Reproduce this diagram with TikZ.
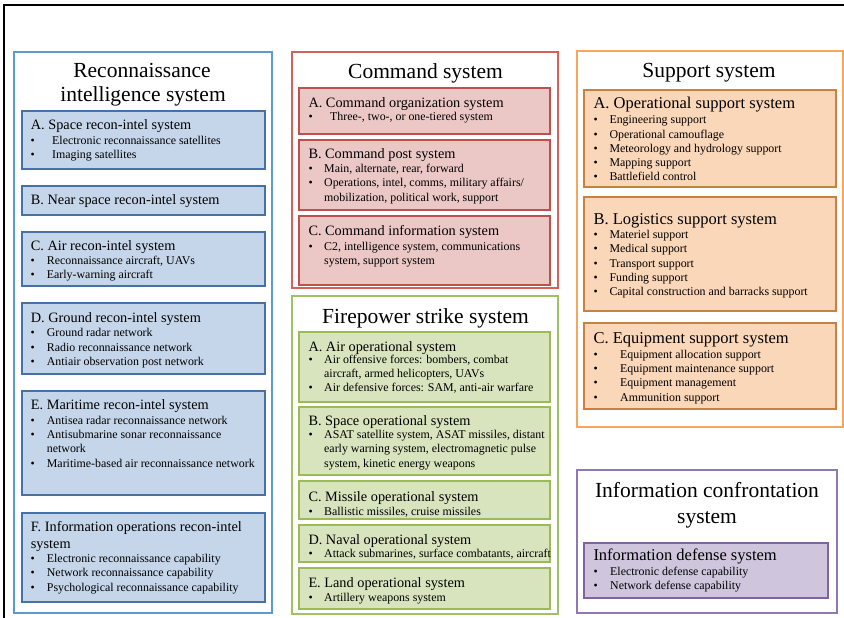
\documentclass[tikz,border=0pt]{standalone}
\usepackage{fontspec}
\setmainfont{Liberation Serif}
\definecolor{blueout}{HTML}{5B9BD5}
\definecolor{bluefill}{HTML}{C5D5EA}
\definecolor{bluedraw}{HTML}{4672A8}
\definecolor{redout}{HTML}{D6605B}
\definecolor{redfill}{HTML}{EBC7C6}
\definecolor{reddraw}{HTML}{C0504D}
\definecolor{greenout}{HTML}{A0C264}
\definecolor{greenfill}{HTML}{D7E4BD}
\definecolor{greendraw}{HTML}{9BBB59}
\definecolor{orangeout}{HTML}{F8A65C}
\definecolor{orangefill}{HTML}{FBD7B9}
\definecolor{orangedraw}{HTML}{C8813E}
\definecolor{purpleout}{HTML}{9079B0}
\definecolor{purplefill}{HTML}{CFC5DD}
\definecolor{purpledraw}{HTML}{8064A2}
\tikzset{
  boxbase/.style={rectangle, anchor=north west, inner sep=0pt, outer sep=0pt},
  outbox/.style={boxbase, draw=#1, line width=1.8pt, fill=white},
  inbox/.style 2 args={boxbase, draw=#1, fill=#2, line width=2pt},
  ttl/.style={anchor=base, inner sep=0pt, font=\fontsize{21.5}{24}\selectfont},
  hdsm/.style={anchor=base west, inner sep=0pt, font=\fontsize{14.3}{16}\selectfont},
  hdlg/.style={anchor=base west, inner sep=0pt, font=\fontsize{16.5}{18}\selectfont},
  txt/.style={anchor=base west, inner sep=0pt, font=\fontsize{11.9}{14}\selectfont},
}
% box: name, style, x1, y1, x2, y2
\newcommand\bx[6]{\node[#2, minimum width=#5pt-#3pt, minimum height=#6pt-#4pt] (#1) at (#3,#4) {};}
% bullet: name, dot x, text x, y, text
\newcommand\bu[5]{\node[txt] (#1d) at (#2,#4) {\textbullet}; \node[txt] (#1) at (#3,#4) {#5};}
\begin{document}
\begin{tikzpicture}[x=1pt,y=-1pt]
\useasboundingbox (0,0) rectangle (844,618);
\coordinate (fb) at (4,618);
\coordinate (ftl) at (4,5);
\coordinate (fr) at (844,5);
\draw[line width=1.6pt] (fb) -- (ftl) -- (fr);

% ---------- Reconnaissance intelligence system ----------
\bx{recon}{outbox=blueout}{14}{52}{272}{613}
\node[ttl] (reconT1) at (142,77.7) {Reconnaissance};
\node[ttl] (reconT2) at (143,101.7) {intelligence system};

\bx{rA}{inbox={bluedraw}{bluefill}}{22}{111}{265}{169}
\node[hdsm] (rAh) at (30.7,129.5) {A. Space recon-intel system};
\bu{rA1}{30.5}{52}{144}{Electronic reconnaissance satellites}
\bu{rA2}{30.5}{52}{158.3}{Imaging satellites}

\bx{rB}{inbox={bluedraw}{bluefill}}{22}{186}{265}{215}
\node[hdsm] (rBh) at (30.7,204.5) {B. Near space recon-intel system};

\bx{rC}{inbox={bluedraw}{bluefill}}{22}{232}{265}{286}
\node[hdsm] (rCh) at (30.7,250.5) {C. Air recon-intel system};
\bu{rC1}{30.5}{46.7}{264.7}{Reconnaissance aircraft, UAVs}
\bu{rC2}{30.5}{46.7}{278.7}{Early-warning aircraft}

\bx{rD}{inbox={bluedraw}{bluefill}}{22}{303}{265}{374}
\node[hdsm] (rDh) at (30.7,322.7) {D. Ground recon-intel system};
\bu{rD1}{30.5}{46.7}{336.7}{Ground radar network}
\bu{rD2}{30.5}{46.7}{351}{Radio reconnaissance network}
\bu{rD3}{30.5}{46.7}{365.5}{Antiair observation post network}

\bx{rE}{inbox={bluedraw}{bluefill}}{22}{391}{265}{495}
\node[hdsm] (rEh) at (30.7,409.3) {E. Maritime recon-intel system};
\bu{rE1}{30.5}{46.7}{424.3}{Antisea radar reconnaissance network}
\bu{rE2}{30.5}{46.7}{438.7}{Antisubmarine sonar reconnaissance}
\node[txt] (rE2b) at (46.7,452.7) {network};
\bu{rE3}{30.5}{46.7}{467}{Maritime-based air reconnaissance network}

\bx{rF}{inbox={bluedraw}{bluefill}}{22}{513}{265}{602}
\node[hdsm] (rFh) at (30.7,531.7) {F. Information operations recon-intel};
\node[hdsm] (rFh2) at (30.7,548) {system};
\bu{rF1}{30.5}{46.7}{562.3}{Electronic reconnaissance capability}
\bu{rF2}{30.5}{46.7}{576.7}{Network reconnaissance capability}
\bu{rF3}{30.5}{46.7}{591.3}{Psychological reconnaissance capability}

% ---------- Command system ----------
\bx{cmd}{outbox=redout}{292}{52}{558}{288}
\node[ttl] (cmdT) at (425.5,78.3) {Command system};

\bx{cA}{inbox={reddraw}{redfill}}{298.5}{88}{550}{134.3}
\node[hdsm] (cAh) at (308.3,107.3) {A. Command organization system};
\bu{cA1}{308.5}{330}{121}{Three-, two-, or one-tiered system}

\bx{cB}{inbox={reddraw}{redfill}}{298.5}{139.5}{550}{210}
\node[hdsm] (cBh) at (308.3,158.3) {B. Command post system};
\bu{cB1}{308.5}{324}{172.7}{Main, alternate, rear, forward}
\bu{cB2}{308.5}{324}{186.7}{Operations, intel, comms, military affairs/}
\node[txt] (cB2b) at (324,201) {mobilization, political work, support};

\bx{cC}{inbox={reddraw}{redfill}}{298.5}{216}{550}{285}
\node[hdsm] (cCh) at (308.3,235.7) {C. Command information system};
\bu{cC1}{308.5}{324}{250}{C2, intelligence system, communications}
\node[txt] (cC1b) at (324,264) {system, support system};

% ---------- Firepower strike system ----------
\bx{fire}{outbox=greenout}{292}{296}{558}{614}
\node[ttl] (fireT) at (425.5,323.3) {Firepower strike system};

\bx{fA}{inbox={greendraw}{greenfill}}{298.5}{331.7}{550}{401.7}
\node[hdsm] (fAh) at (308.3,351) {A. Air operational system};
\bu{fA1}{308.5}{324}{363.5}{Air offensive forces: bombers, combat}
\node[txt] (fA1b) at (324,377.3) {aircraft, armed helicopters, UAVs};
\bu{fA2}{308.5}{324}{391}{Air defensive forces: SAM, anti-air warfare}

\bx{fB}{inbox={greendraw}{greenfill}}{298.5}{407.3}{550}{475}
\node[hdsm] (fBh) at (308.3,425) {B. Space operational system};
\bu{fB1}{308.5}{324}{438.5}{ASAT satellite system, ASAT missiles, distant}
\node[txt] (fB1b) at (324,452.7) {early warning system, electromagnetic pulse};
\node[txt] (fB1c) at (324,467) {system, kinetic energy weapons};

\bx{fC}{inbox={greendraw}{greenfill}}{298.5}{481}{550}{519.3}
\node[hdsm] (fCh) at (308.3,501.5) {C. Missile operational system};
\bu{fC1}{308.5}{324}{515}{Ballistic missiles, cruise missiles}

\bx{fD}{inbox={greendraw}{greenfill}}{298.5}{525}{550}{561.7}
\node[hdsm] (fDh) at (308.3,544.8) {D. Naval operational system};
\bu{fD1}{308.5}{324}{557.5}{Attack submarines, surface combatants, aircraft}

\bx{fE}{inbox={greendraw}{greenfill}}{298.5}{568.3}{550}{609.3}
\node[hdsm] (fEh) at (308.3,587.5) {E. Land operational system};
\bu{fE1}{308.5}{324}{601}{Artillery weapons system}

% ---------- Support system ----------
\bx{sup}{outbox=orangeout}{577}{51}{842.7}{427.3}
\node[ttl] (supT) at (709,77.7) {Support system};

\bx{sA}{inbox={orangedraw}{orangefill}}{584}{90}{835.7}{186.7}
\node[hdlg] (sAh) at (593.3,109) {A. Operational support system};
\bu{sA1}{593.5}{609.3}{123.7}{Engineering support}
\bu{sA2}{593.5}{609.3}{138}{Operational camouflage}
\bu{sA3}{593.5}{609.3}{152.3}{Meteorology and hydrology support}
\bu{sA4}{593.5}{609.3}{166.3}{Mapping support}
\bu{sA5}{593.5}{609.3}{180.3}{Battlefield control}

\bx{sB}{inbox={orangedraw}{orangefill}}{584}{196.7}{835.7}{310.7}
\node[hdlg] (sBh) at (593.3,224.3) {B. Logistics support system};
\bu{sB1}{593.5}{609.3}{238.5}{Materiel support}
\bu{sB2}{593.5}{609.3}{252.7}{Medical support}
\bu{sB3}{593.5}{609.3}{267}{Transport support}
\bu{sB4}{593.5}{609.3}{281.2}{Funding support}
\bu{sB5}{593.5}{609.3}{295.7}{Capital construction and barracks support}

\bx{sC}{inbox={orangedraw}{orangefill}}{584}{322.7}{835.7}{409}
\node[hdlg] (sCh) at (593.3,343.3) {C. Equipment support system};
\bu{sC1}{593.5}{620}{358.3}{Equipment allocation support}
\bu{sC2}{593.5}{620}{372.5}{Equipment maintenance support}
\bu{sC3}{593.5}{620}{386.7}{Equipment management}
\bu{sC4}{593.5}{620}{401}{Ammunition support}

% ---------- Information confrontation system ----------
\bx{info}{outbox=purpleout}{577}{470}{836.7}{613.3}
\node[ttl] (infoT1) at (707,497.7) {Information confrontation};
\node[ttl] (infoT2) at (707,523.3) {system};

\bx{iA}{inbox={purpledraw}{purplefill}}{584}{543.3}{828.3}{598.3}
\node[hdlg] (iAh) at (593.3,560) {Information defense system};
\bu{iA1}{593.5}{610}{575}{Electronic defense capability}
\bu{iA2}{593.5}{610}{589.5}{Network defense capability}
\end{tikzpicture}
\end{document}
